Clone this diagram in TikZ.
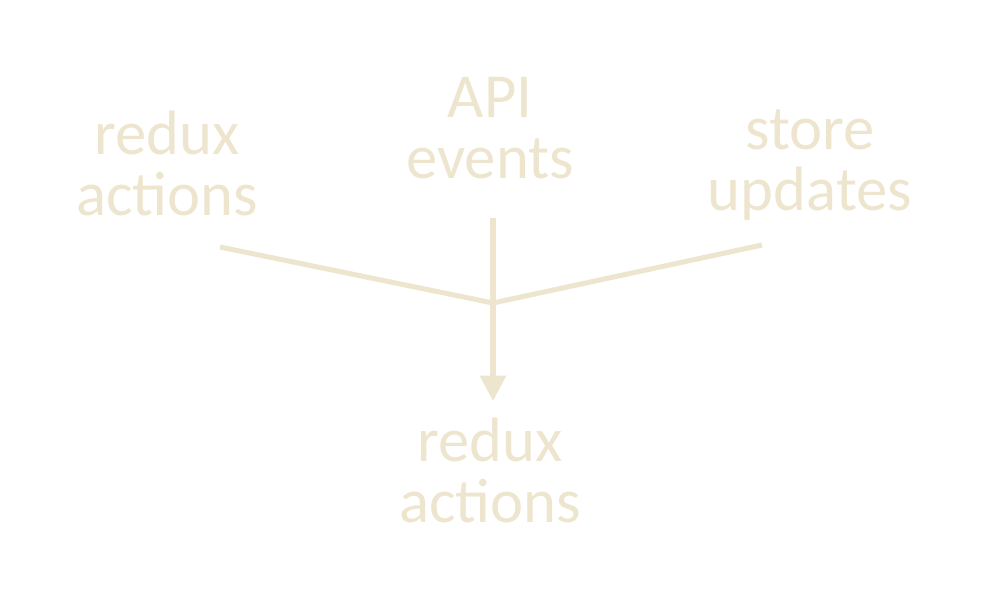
\documentclass[tikz,border=0pt]{standalone}
\usepackage{fontspec}
\setmainfont{Carlito}
\usetikzlibrary{arrows.meta}
\definecolor{beige}{RGB}{238,229,207}
\tikzset{
  lbl/.style={text=beige, align=center, inner sep=0pt, anchor=base,
    font=\fontsize{47}{45.5}\selectfont},
  conn/.style={draw=beige, line width=3.8pt},
  tip/.style={-{Triangle[length=19pt,width=19pt]}}
}
\begin{document}
\begin{tikzpicture}[x=0.75pt,y=-0.75pt]
\useasboundingbox (0,0) rectangle (1000,600);
\node[lbl] (la) at (167,215) {redux\\actions};
\node[lbl] (api) at (490,178) {API\\events};
\node[lbl] (st) at (810,210) {store\\updates};
\node[lbl] (out) at (490,522) {redux\\actions};
\coordinate (L) at (220,247);
\coordinate (R) at (762,245);
\coordinate (J) at (493,303);
\coordinate (T) at (493,218);
\coordinate (B) at (493,401);
\draw[conn, line join=miter] (L) -- (J) -- (R);
\draw[conn, tip] (T) -- (B);
\end{tikzpicture}
\end{document}
